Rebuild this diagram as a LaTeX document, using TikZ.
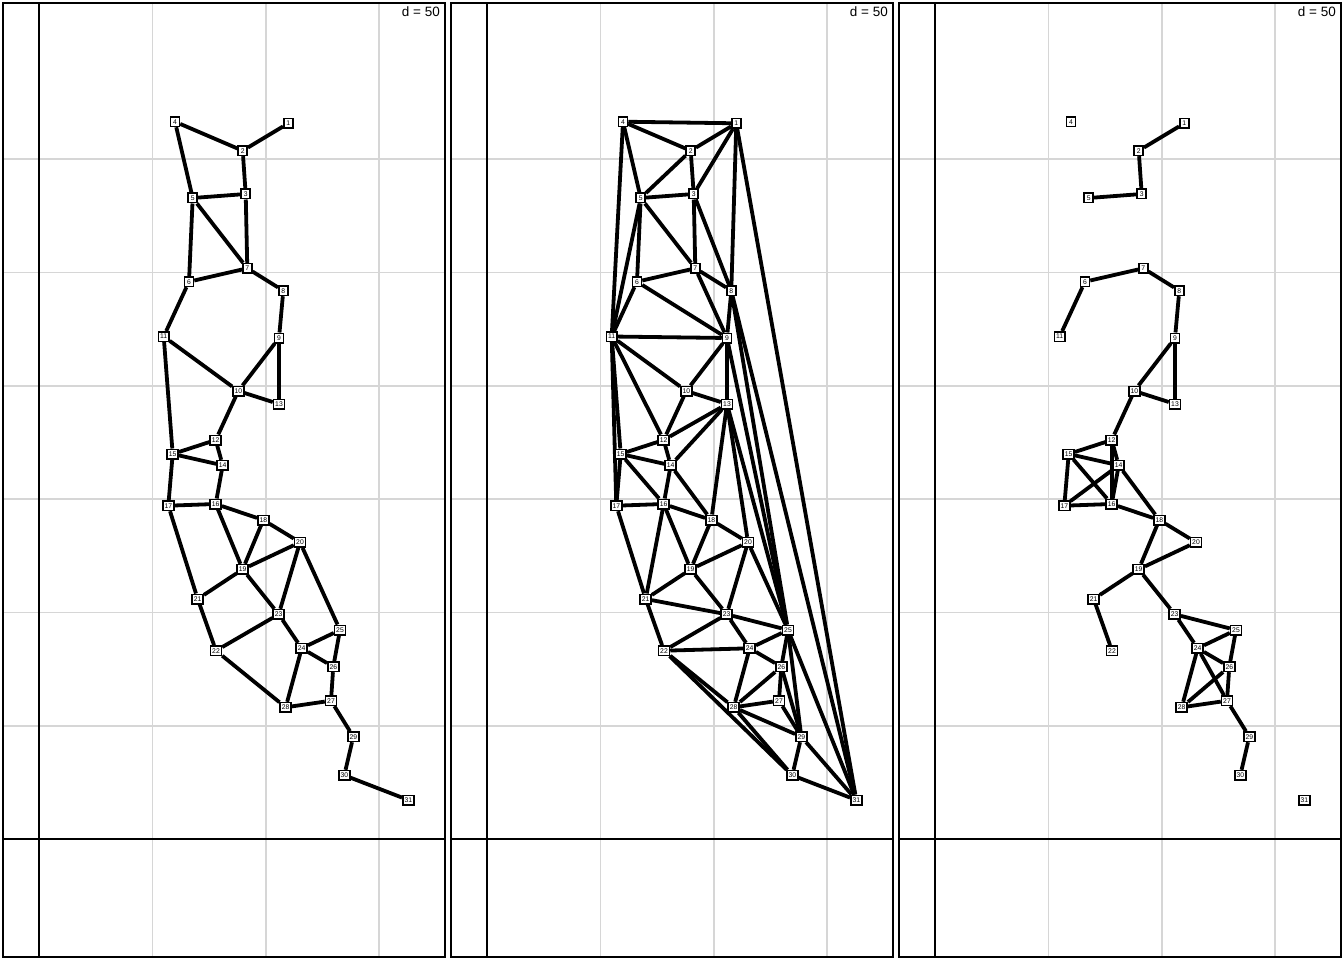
\documentclass[tikz,border=0pt]{standalone}
\usepackage{fontspec}
\setmainfont{Liberation Sans}
\definecolor{gridgray}{RGB}{214,214,214}
\pgfdeclarelayer{back}
\pgfdeclarelayer{links}
\pgfsetlayers{back,links,main}
\tikzset{
  frame/.style={draw=black, line width=1.7pt},
  gridline/.style={draw=gridgray, line width=1.6pt},
  site/.style={
    draw=black,
    fill=white,
    line width=1.5pt,
    inner xsep=1.7pt,
    inner ysep=0.8pt,
    minimum width=9pt,
    minimum height=9.5pt,
    font=\fontsize{6.8}{6.8}\selectfont
  },
  link/.style={draw=black, line width=3.8pt},
  tag/.style={anchor=base east, inner sep=0pt, font=\fontsize{13.5}{13.5}\selectfont}
}
% site positions (first panel)
\def\sites{1/288.3/123.3, 2/242.7/150.7, 3/245.7/194, 4/175/121.7, 5/192.7/198,
  6/189/281.7, 7/247.3/268.3, 8/283.3/290.7, 9/279/338, 10/238.3/391,
  11/163.7/336.5, 12/215.7/440, 13/279/404, 14/222.7/465.3, 15/172.7/454,
  16/215.7/504, 17/168.3/505.7, 18/263.3/520, 19/242.7/569.3, 20/300/542.3,
  21/197.7/599, 22/216/650.7, 23/278.7/614.3, 24/301.7/648.3, 25/340/630,
  26/333.3/666.7, 27/331/700.7, 28/285.7/707.3, 29/353.3/736.7, 30/344.3/775.3,
  31/408.3/800}
\def\linksA{1/2,2/3,2/4,3/5,3/7,4/5,5/6,5/7,6/7,6/11,7/8,8/9,9/10,9/13,10/11,
  10/12,10/13,11/15,12/14,12/15,14/15,14/16,15/17,16/17,16/18,16/19,17/21,18/19,
  18/20,19/20,19/21,19/23,20/23,20/25,21/22,22/23,22/28,23/24,24/25,24/26,24/28,
  25/26,26/27,27/28,27/29,29/30,30/31}
\def\linksB{1/2,1/3,1/4,1/8,1/31,2/3,2/4,2/5,3/5,3/7,3/8,4/5,4/11,5/6,5/7,5/11,
  6/7,6/9,6/11,7/8,7/9,8/9,8/25,8/31,9/10,9/11,9/13,9/25,10/11,10/12,10/13,11/12,
  11/15,11/17,12/13,12/14,12/15,13/14,13/18,13/20,13/25,14/15,14/16,14/18,15/16,
  15/17,16/17,16/18,16/19,16/21,17/21,18/19,18/20,19/20,19/21,19/23,20/23,20/25,
  21/22,21/23,22/23,22/24,22/28,22/30,23/24,23/25,24/25,24/26,24/28,25/26,25/29,
  25/31,26/27,26/28,26/29,27/28,27/29,28/29,28/30,29/30,29/31,30/31}
\def\linksC{1/2,2/3,3/5,6/7,6/11,7/8,8/9,9/10,9/13,10/12,10/13,12/14,12/15,12/16,
  14/15,14/16,14/17,14/18,15/16,15/17,16/17,16/18,18/19,18/20,19/20,19/21,19/23,
  21/22,23/24,23/25,24/25,24/26,24/27,24/28,25/26,26/27,26/28,27/28,27/29,29/30}
\begin{document}
\begin{tikzpicture}[x=1pt, y=-1pt]
  \useasboundingbox (0,0) rectangle (1344,960);
  \foreach \dx/\p in {0/a,448/b,896/c} {
    \begin{pgfonlayer}{back}
      \foreach \gx in {152.3,265.7,379}
        \draw[gridline] (\dx+\gx,3) -- (\dx+\gx,957);
      \foreach \gy in {159,272.3,385.7,499,612.3,725.7}
        \draw[gridline] (\dx+3,\gy) -- (\dx+445,\gy);
      \draw[frame] (\dx+39,3) -- (\dx+39,957);
      \draw[frame] (\dx+3,839) -- (\dx+445,839);
      \draw[frame] (\dx+3,3) rectangle (\dx+445,957);
    \end{pgfonlayer}
    \node[tag] (\p tag) at (\dx+440,16.5) {d = 50};
    \foreach \n/\x/\y in \sites
      \node[site] (\p\n) at (\dx+\x,\y) {\n};
  }
  \begin{pgfonlayer}{links}
    \foreach \u/\v in \linksA \draw[link] (a\u) -- (a\v);
    \foreach \u/\v in \linksB \draw[link] (b\u) -- (b\v);
    \foreach \u/\v in \linksC \draw[link] (c\u) -- (c\v);
  \end{pgfonlayer}
\end{tikzpicture}
\end{document}
